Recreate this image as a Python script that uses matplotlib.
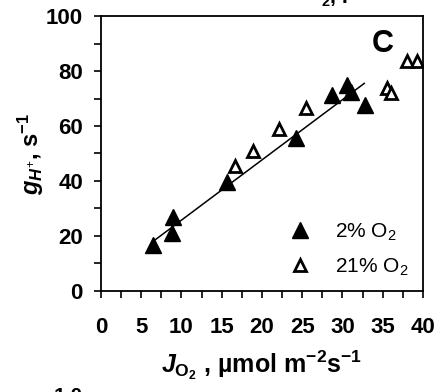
import numpy as np
import matplotlib
matplotlib.use("Agg")
import matplotlib.pyplot as plt
from matplotlib.ticker import MultipleLocator

plt.rcParams["font.family"] = ["Liberation Sans", "DejaVu Sans"]
plt.rcParams["mathtext.fontset"] = "custom"
plt.rcParams["mathtext.rm"] = "Liberation Sans"
plt.rcParams["mathtext.it"] = "Liberation Sans:italic:bold"
plt.rcParams["mathtext.bf"] = "Liberation Sans:bold"

# 2% O2 (filled)
jo2_low = [6.5, 8.8, 9.0, 15.7, 24.2, 28.7, 30.5, 31.1, 32.8]
gh_low = [16.7, 21.2, 26.8, 39.5, 55.5, 71.3, 75.0, 72.5, 67.8]
# 21% O2 (open)
jo2_high = [16.7, 18.9, 22.1, 25.5, 35.5, 36.0, 38.0, 39.3]
gh_high = [45.6, 51.0, 59.0, 66.5, 73.9, 71.9, 83.6, 83.6]
# regression line for 2% O2
fit_x = [6.7, 32.7]
fit_y = [18.5, 75.5]

fig = plt.figure(figsize=(4.37, 3.92), dpi=100)
ax = fig.add_axes([0.231, 0.258, 0.737, 0.701])

ax.plot(fit_x, fit_y, color="black", lw=1.1, zorder=2)
ax.plot(jo2_low, gh_low, "^", color="black", ms=11, zorder=3,
        label="2% O$_2$")
ax.plot(jo2_high, gh_high, "^", mfc="white", mec="black", mew=2, ms=8.5,
        zorder=3, label="21% O$_2$")

ax.set_xlim(0, 40)
ax.set_ylim(0, 100)
ax.xaxis.set_major_locator(MultipleLocator(5))
ax.xaxis.set_minor_locator(MultipleLocator(2.5))
ax.yaxis.set_major_locator(MultipleLocator(20))
ax.yaxis.set_minor_locator(MultipleLocator(10))
ax.tick_params(which="both", direction="out", length=5, width=1.2)
ax.tick_params(axis="y", labelsize=16, pad=8)
ax.tick_params(axis="x", labelsize=16, pad=14)
for lab in ax.get_xticklabels() + ax.get_yticklabels():
    lab.set_fontweight("bold")
for sp in ax.spines.values():
    sp.set_linewidth(1.3)

ax.set_xlabel(r"$\mathit{J}_{\mathbf{O_2}}$ , µmol m$^{\mathbf{-2}}$s$^{\mathbf{-1}}$",
              fontsize=18, fontweight="bold", labelpad=7)
ax.set_ylabel(r"$\mathit{g}_{\mathit{H^{+}}}$, s$^{\mathbf{-1}}$",
              fontsize=17, fontweight="bold")
ax.yaxis.set_label_coords(-0.17, 0.5)

ax.text(0.875, 0.9, "C", transform=ax.transAxes, fontsize=22,
        fontweight="bold", ha="center", va="center")

ax.legend(loc="lower right", bbox_to_anchor=(1.0, -0.005), frameon=False,
          fontsize=15, handlelength=1.2, handletextpad=1.1,
          labelspacing=0.65, borderaxespad=0.3)

# fragments of neighbouring panels cut by the crop
fig.text(0.765, 1.005, r"$\mathbf{_2}$, I", fontsize=15, fontweight="bold",
         ha="center", va="center")
fig.text(0.155, -0.012, "1.0", fontsize=15, fontweight="bold",
         ha="center", va="center")

fig.savefig("out.png", dpi=100)
